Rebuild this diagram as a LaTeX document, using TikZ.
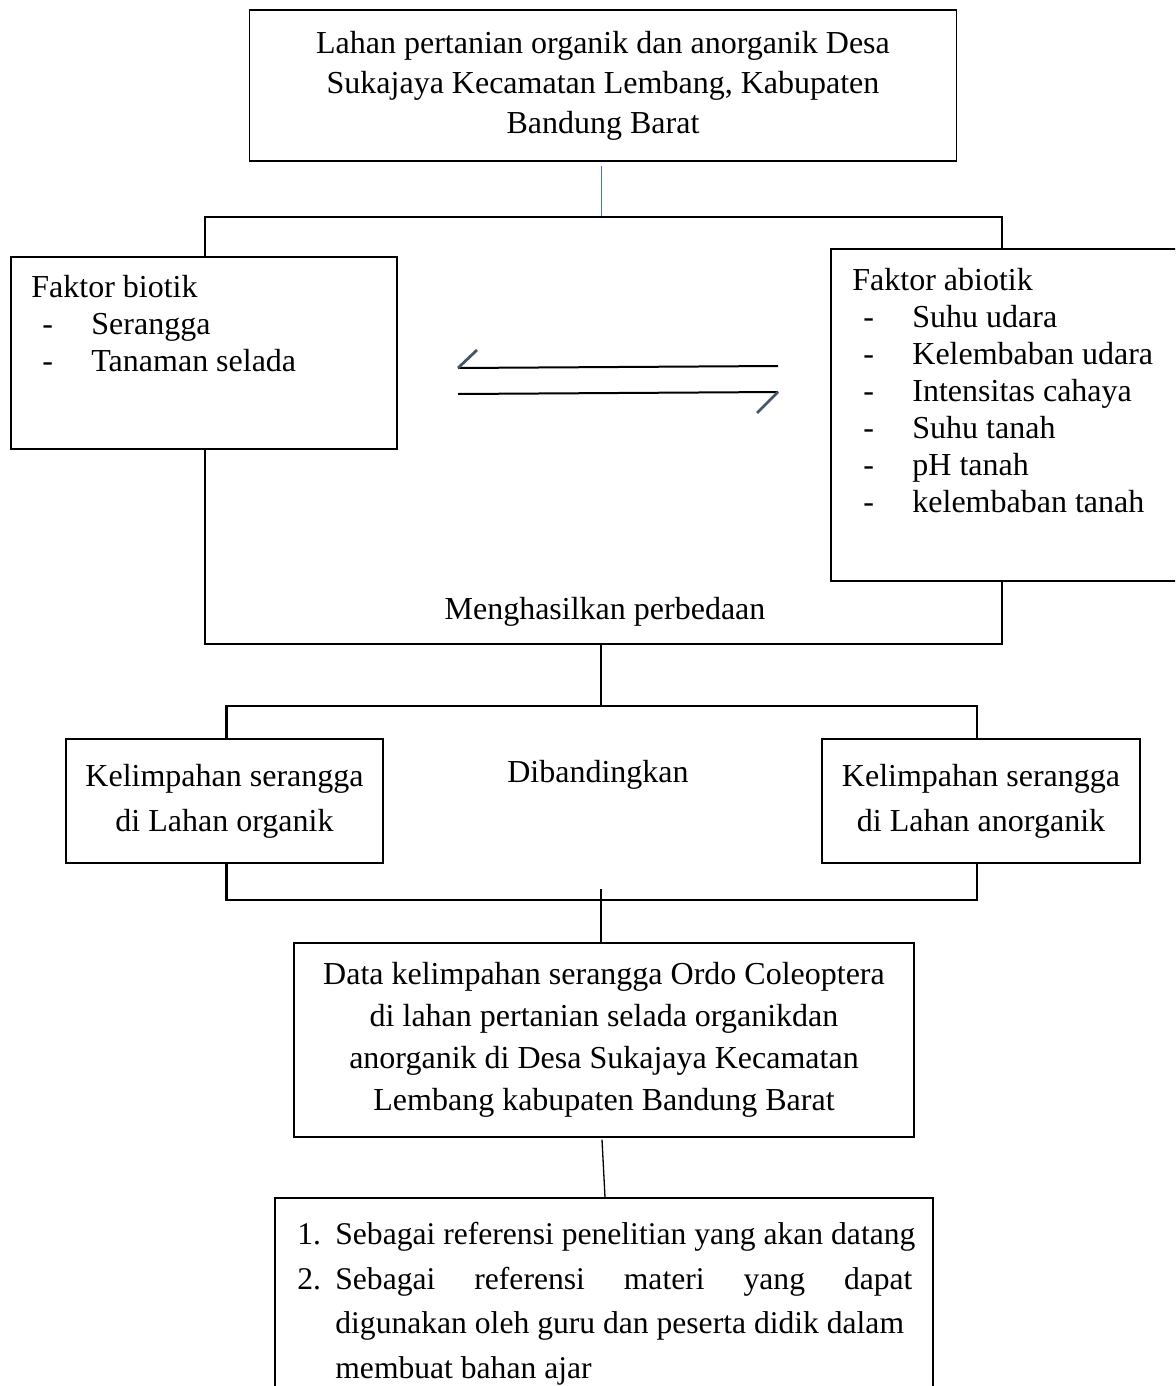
\documentclass[tikz,border=0pt]{standalone}
\usepackage{fontspec}
\setmainfont{Liberation Serif}
\definecolor{barbgray}{HTML}{44546A}
\definecolor{linkblue}{HTML}{4472C4}
\tikzset{
  txt/.style={font=\fontsize{16}{20}\selectfont, inner sep=0pt},
  box/.style={txt, draw, line width=0.65pt, align=center},
  bracket/.style={line width=1.3pt},
  link/.style={line width=0.65pt},
  harpoon/.style={line width=1pt},
  barb/.style={line width=1.4pt, barbgray},
}
\newcommand{\strip}[1]{\hspace*{5.5pt}\makebox[24.5pt][l]{-}#1}
\begin{document}
\begin{tikzpicture}[x=0.5pt, y=-0.5pt]
\useasboundingbox (0,0) rectangle (1175,1386);
\clip (0,0) rectangle (1175,1386);
\node[box, minimum width=353.5pt, minimum height=75.5pt] (lahan) at (603,85.5)
  {Lahan pertanian organik dan anorganik Desa\\Sukajaya Kecamatan Lembang, Kabupaten\\Bandung Barat};
\node[box, minimum width=193pt, minimum height=96pt] (biotik) at (204,353) {};
\node[txt, anchor=base west, align=left, font=\fontsize{16}{18.3}\selectfont] (biotiktxt) at (31,371)
  {Faktor biotik\\\strip{Serangga}\\\strip{Tanaman selada}};
\node[box, minimum width=177pt, minimum height=166pt] (abiotik) at (1008,415) {};
\node[txt, anchor=base west, align=left, font=\fontsize{16}{18.5}\selectfont] (abiotiktxt) at (852,512)
  {Faktor abiotik\\\strip{Suhu udara}\\\strip{Kelembaban udara}\\\strip{Intensitas cahaya}\\\strip{Suhu tanah}\\\strip{pH tanah}\\\strip{kelembaban tanah}};
\node[txt] (hasil) at (605,612) {Menghasilkan perbedaan};
\node[box, minimum width=158.5pt, minimum height=62pt, font=\fontsize{16}{22.5}\selectfont] (organik) at (224.5,801)
  {Kelimpahan serangga\\di Lahan organik};
\node[box, minimum width=159pt, minimum height=62pt, font=\fontsize{16}{22.5}\selectfont] (anorganik) at (981,801)
  {Kelimpahan serangga\\di Lahan anorganik};
\node[txt] (banding) at (598,775) {Dibandingkan};
\node[box, minimum width=310pt, minimum height=97pt, font=\fontsize{16}{21}\selectfont] (data) at (604,1040)
  {Data kelimpahan serangga Ordo Coleoptera\\di lahan pertanian selada organikdan\\anorganik di Desa Sukajaya Kecamatan\\Lembang kabupaten Bandung Barat};
\node[box, minimum width=329pt, minimum height=125pt] (manfaat) at (604,1323) {};
\node[txt, anchor=base west, align=left, font=\fontsize{15.8}{22.2}\selectfont] (manfaattxt) at (297,1378)
  {\makebox[19pt][l]{1.}Sebagai referensi penelitian yang akan datang\\
   \makebox[19pt][l]{2.}\makebox[288.5pt][s]{Sebagai referensi materi yang dapat}\\
   \hspace*{19pt}digunakan oleh guru dan peserta didik dalam\\
   \hspace*{19pt}membuat bahan ajar};
\coordinate (atas) at (601,217);
\coordinate (kiri) at (205,217);
\coordinate (kanan) at (1002,217);
\coordinate (tengah) at (601,644);
\coordinate (atas2) at (601,706);
\coordinate (bawah2) at (601,900);
\coordinate (mulai) at (601,889);
\draw[link, linkblue, line width=0.5pt] ([yshift=-2pt]lahan.south -| atas) -- (atas);
\draw[bracket] (kiri |- biotik.north) -- (kiri) -- (kanan) -- (kanan |- abiotik.north);
\draw[bracket] (kiri |- biotik.south) |- (tengah) -| (kanan |- abiotik.south);
\draw[link] (tengah) -- (atas2);
\draw[bracket] ([xshift=1pt]organik.north) |- (atas2) -| ([xshift=-2pt]anorganik.north);
\draw[bracket] ([xshift=1pt]organik.south) |- (bawah2) -| ([xshift=-2pt]anorganik.south);
\draw[link] (mulai) -- (mulai |- data.north);
\draw[link] ([xshift=-1pt,yshift=-1pt]data.south) -- ([xshift=0.5pt]manfaat.north);
\coordinate (h1a) at (458,368);
\coordinate (h1b) at (778,366);
\coordinate (h1c) at (477,350);
\coordinate (h2a) at (458,394);
\coordinate (h2b) at (778,392);
\coordinate (h2c) at (757,413);
\draw[harpoon] (h1a) -- (h1b);
\draw[barb] (h1a) -- (h1c);
\draw[harpoon] (h2a) -- (h2b);
\draw[barb] (h2b) -- (h2c);
\end{tikzpicture}
\end{document}
